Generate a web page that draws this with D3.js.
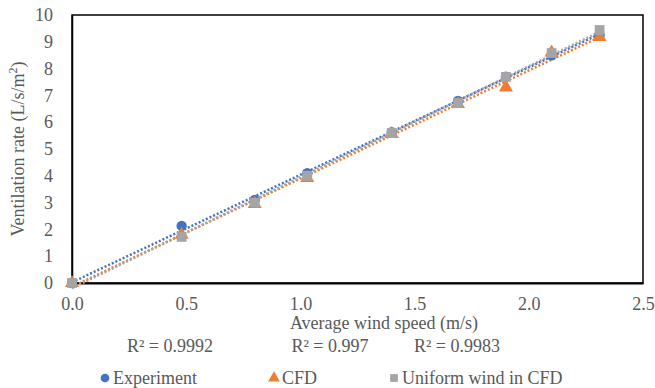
<!DOCTYPE html>
<html>
<head>
<meta charset="utf-8">
<script src="https://cdn.jsdelivr.net/npm/d3@7"></script>
<style>
  body { margin: 0; background: #fff; }
  text { font-family: "Liberation Serif", "Times New Roman", serif; fill: #595959; }
</style>
</head>
<body>
<svg id="chart" width="655" height="388"></svg>
<script>
// wind speed (m/s)
var speeds = [0, 0.48, 0.8, 1.03, 1.4, 1.69, 1.9, 2.1, 2.31];
// ventilation rate (L/s/m2)
var experiment = [0, 2.13, 3.1, 4.1, 5.63, 6.79, 7.7, 8.5, 9.25];
var cfd = [0, 1.8, 2.95, 3.92, 5.56, 6.68, 7.3, 8.6, 9.18];
var uniform = [0, 1.72, 3.0, 4.0, 5.6, 6.72, 7.69, 8.58, 9.44];
var r2Labels = ["R² = 0.9992", "R² = 0.997", "R² = 0.9983"];
var seriesNames = ["Experiment", "CFD", "Uniform wind in CFD"];
var xTicks = [0, 0.5, 1, 1.5, 2, 2.5];
var yTicks = [0, 1, 2, 3, 4, 5, 6, 7, 8, 9, 10];

var colors = ["#4472C4", "#ED7D31", "#A5A5A5"];
var seriesVals = [experiment, cfd, uniform];

var svg = d3.select("#chart");
var margin = {left: 72, top: 15, right: 12, bottom: 105};
var width = 655 - margin.left - margin.right;
var height = 388 - margin.top - margin.bottom;

var x = d3.scaleLinear().domain([0, 2.5]).range([0, width]);
var y = d3.scaleLinear().domain([0, 10]).range([height, 0]);

var g = svg.append("g")
    .attr("transform", "translate(" + margin.left + "," + margin.top + ")");

// frame
g.append("rect")
    .attr("width", width).attr("height", height)
    .attr("fill", "none").attr("stroke", "#000").attr("stroke-width", 1.5);

var xAxis = g.append("g")
    .attr("transform", "translate(0," + height + ")")
    .call(d3.axisBottom(x).tickValues(xTicks).tickFormat(d3.format(".1f")).tickSize(0).tickPadding(14));
xAxis.select(".domain").attr("stroke", "#000").attr("stroke-width", 2);
xAxis.selectAll("text").style("font-size", "18px");

var yAxis = g.append("g")
    .call(d3.axisLeft(y).tickValues(yTicks).tickSize(0).tickPadding(19));
yAxis.select(".domain").attr("stroke", "#000").attr("stroke-width", 1.5);
yAxis.selectAll("text").style("font-size", "18px");

// linear trendlines
seriesVals.forEach(function (vals, i) {
    var mx = d3.mean(speeds), my = d3.mean(vals);
    var sxy = d3.sum(speeds, function (s, k) { return (s - mx) * (vals[k] - my); });
    var sxx = d3.sum(speeds, function (s) { return (s - mx) * (s - mx); });
    var b = sxy / sxx, a = my - b * mx;
    var ext = d3.extent(speeds);
    g.append("line")
        .attr("x1", x(ext[0])).attr("y1", y(a + b * ext[0]))
        .attr("x2", x(ext[1])).attr("y2", y(a + b * ext[1]))
        .attr("stroke", colors[i]).attr("stroke-width", 2.5)
        .attr("stroke-dasharray", "2,2");
});

var symbols = [d3.symbolCircle, d3.symbolTriangle, d3.symbolSquare];
var sizes = [85, 85, 95];

// points
[0, 1, 2].forEach(function (i) {
    g.selectAll(".pt" + i)
        .data(seriesVals[i])
        .enter().append("path")
        .attr("class", "pt" + i)
        .attr("d", d3.symbol().type(symbols[i]).size(sizes[i]))
        .attr("transform", function (d, k) { return "translate(" + x(speeds[k]) + "," + y(d) + ")"; })
        .attr("fill", colors[i]);
});

// axis titles
svg.append("text")
    .attr("transform", "translate(24," + (margin.top + height / 2) + ") rotate(-90)")
    .attr("text-anchor", "middle")
    .style("font-size", "18px")
    .html("Ventilation rate (L/s/m<tspan dy='-7' font-size='12'>2</tspan><tspan dy='7'>)</tspan>");

svg.append("text")
    .attr("x", 384).attr("y", 329)
    .attr("text-anchor", "middle")
    .style("font-size", "18px")
    .text("Average wind speed (m/s)");

// R² labels
var r2x = [170, 330, 457];
r2Labels.forEach(function (t, i) {
    svg.append("text")
        .attr("x", r2x[i]).attr("y", 352)
        .attr("text-anchor", "middle")
        .style("font-size", "18px")
        .text(t);
});

// legend
var legX = [105, 274, 394];
seriesNames.forEach(function (n, i) {
    var lg = svg.append("g").attr("transform", "translate(" + legX[i] + ",378)");
    lg.append("path")
        .attr("d", d3.symbol().type(symbols[i]).size(60))
        .attr("fill", colors[i]);
    lg.append("text")
        .attr("x", 8).attr("y", 6)
        .style("font-size", "18px")
        .text(n);
});
</script>
</body>
</html>
